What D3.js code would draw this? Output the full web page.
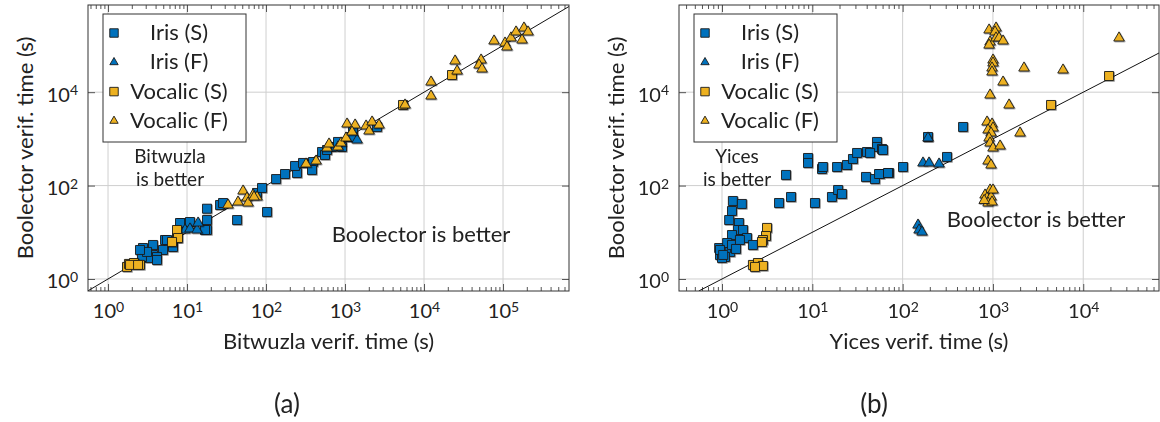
<!DOCTYPE html>
<html>
<head>
<meta charset="utf-8">
<script src="https://cdn.jsdelivr.net/npm/d3@7"></script>
<style>
  body { margin: 0; background: #fff; }
  text { font-family: Lato, "Open Sans", sans-serif; fill: #222; }
</style>
</head>
<body>
<div id="chart"></div>
<script>
// ---- data: [solver time, Boolector time] in seconds ----
var LEGEND = ["Iris (S)", "Iris (F)", "Vocalic (S)", "Vocalic (F)"];
var Y_TICKS = [1, 100, 10000];

var bwIrisS = [[2.77,4.61],[3.71,5.35],[3.71,3.27],[4.97,4.18],[5.27,6.84],[6.65,5.35],[8.64,15.8],[10.9,16.6],
  [17.9,18.3],[17.9,11.2],[17.9,32],[26.2,38.4],[28.6,42.4],[43.0,18.3],[76.9,69.5],[89,88.9],[103,27.2],
  [3.12,3.6],[3.4,2.82],[4.17,2.96],[7.47,7.55],[2.69,2.96],[5.58,6.84],[8.15,15.8],[16.9,11.2],[3.12,3.79],
  [4.17,2.55],[6.65,4.84],[2.54,4.18],[134,138],[174,177],[247,186],[233,263],[294,305],[393,320],[382,216],
  [512,524],[558,452],[684,671],[864,817],[916,671],[1156,1098],[1262,1406],[2542,1799],[592,578],[815,859],[1227,1098]];
var bwIrisF = [[9.43,11.2],[10.9,11.8],[13.4,11.2],[13.8,15.8],[1420,947]];
var bwVocS = [[1.74,1.81],[1.84,2.1],[2.13,2.2],[2.54,2.0],[1.9,2.0],[2.4,2.0],[7.47,11.2],[7.69,7.55],[6.46,6.2],
  [5420,5320],[22600,23300]];
var bwVocF = [[33,38.4],[44.2,44.5],[51.2,76.6],[57.4,54.2],[68.4,62.9],[59.2,42.4],[76.9,57],[70.5,57],[321,290],
  [430,336],[592,638],[627,778],[815,671],[889,817],[1030,1045],[1060,2084],[1340,1985],[1227,1406],[1845,1890],
  [2198,2300],[2013,1476],[2692,1985],[5745,5320],[12270,16500],[12270,8290],[24700,46600],[26200,28400],
  [52700,48900],[49700,38200],[54200,31400],[76900,125000],[106000,113000],[112000,92900],[126000,145000],
  [146000,195000],[174000,131000],[184000,237000],[207000,195000]];

var yIrisS = [[1.32,46.8],[1.66,40.4],[1.29,28.6],[1.20,18.3],[1.54,15.8],[1.50,11.2],[1.71,11.2],[1.29,8.75],
  [1.89,7.55],[2.20,5.35],[0.93,4.61],[0.95,3.27],[1.23,3.79],[1.39,4.61],[1.08,2.96],[1.0,2.82],[1.14,5.9],
  [1.29,5.35],[1.58,6.84],[1.43,4.39],[0.95,4.18],[1.03,3.27],[5.11,169],[4.28,42.4],[5.81,57],[8.96,390],
  [8.96,305],[10.7,42.4],[12.8,227],[13.1,250],[18.8,250],[24.2,276],[28.2,371],[31.3,499],[40.3,524],[52,859],
  [52,671],[59.1,608],[60.7,578],[43.6,499],[39.3,153],[49.4,138],[56.2,177],[70.7,186],[54.8,177],[16.5,57],
  [19.3,80.5],[21.3,66.1],[68.9,186],[101,250],[310,410],[467,1799],[191,1098]];
var yIrisF = [[168,305],[196,305],[253,290],[191,1045],[148,14.3],[152,11.2],[164,10.1]];
var yVocS = [[3.15,12.4],[3.07,8.33],[2.84,6.84],[2.77,6.2],[2.2,2.0],[2.5,2.2],[2.84,1.9],[2.32,1.81],
  [4400,5320],[19300,22200]];
var yVocF = [[906,215000],[1082,237000],[1055,195000],[929,119000],[906,102000],[1082,145000],[1169,145000],
  [1294,125000],[1002,48900],[1002,42200],[977,33000],[977,27100],[2208,33000],[1294,16500],[929,8710],
  [1508,5320],[860,2300],[977,2084],[1002,1711],[883,1552],[953,1337],[906,1045],[929,817],[1002,638],
  [1199,705],[1995,1337],[883,336],[953,276],[929,80.5],[818,62.9],[860,54.2],[953,57],[883,42.4],[977,44.5],
  [1002,80.5],[800,48],[5970,29900],[24900,145000]];

var COLORS = ["#0072BD", "#0072BD", "#EDB120", "#EDB120"];
var SHAPES = [d3.symbolSquare, d3.symbolTriangle, d3.symbolSquare, d3.symbolTriangle];

var W = 1160, H = 422, TOP = 5, BOTTOM = 291;

var svg = d3.select("#chart").append("svg").attr("width", W).attr("height", H);

var defs = svg.append("defs");
defs.append("filter").attr("id", "shadow")
    .attr("x", "-50%").attr("y", "-50%").attr("width", "200%").attr("height", "200%")
  .append("feDropShadow")
    .attr("dx", 0.8).attr("dy", 0.8).attr("stdDeviation", 0.6)
    .attr("flood-color", "#000").attr("flood-opacity", 0.45);

function pow10Label(sel) {
  sel.each(function (d) {
    var t = d3.select(this);
    t.text(null);
    t.append("tspan").text("10");
    t.append("tspan").attr("dy", "-0.45em").attr("font-size", 14).text(Math.round(Math.log10(d)));
  });
}

function drawPanel(cfg) {
  var g = svg.append("g");
  var x = d3.scaleLog().domain(cfg.xDomain).range([cfg.left, cfg.right]);
  var y = d3.scaleLog().domain([0.553, 7.36e5]).range([BOTTOM, TOP]);

  var xMajor = [], xMinor = [];
  for (var k = -1; k <= 6; k++) {
    var v = Math.pow(10, k);
    if (v >= cfg.xDomain[0] && v <= cfg.xDomain[1]) xMajor.push(v);
    for (var m = 2; m <= 9; m++) {
      var mv = m * v;
      if (mv >= cfg.xDomain[0] && mv <= cfg.xDomain[1]) xMinor.push(mv);
    }
  }

  var clipId = "clip" + cfg.id;
  defs.append("clipPath").attr("id", clipId)
    .append("rect").attr("x", cfg.left).attr("y", TOP)
    .attr("width", cfg.right - cfg.left).attr("height", BOTTOM - TOP);

  // grid
  g.append("g").selectAll("line").data(xMajor).enter().append("line")
    .attr("x1", d => x(d)).attr("x2", d => x(d))
    .attr("y1", TOP).attr("y2", BOTTOM)
    .attr("stroke", "#cfcfcf").attr("stroke-width", 1);
  g.append("g").selectAll("line").data(Y_TICKS).enter().append("line")
    .attr("x1", cfg.left).attr("x2", cfg.right)
    .attr("y1", d => y(d)).attr("y2", d => y(d))
    .attr("stroke", "#cfcfcf").attr("stroke-width", 1);

  // axes (ticks inside the box)
  function styleAxis(a) {
    a.select(".domain").remove();
    a.attr("color", "#555").attr("font-size", null).attr("font-family", null);
  }
  g.append("g").attr("transform", "translate(0," + BOTTOM + ")")
    .call(d3.axisBottom(x).tickValues(xMinor).tickSizeInner(-4).tickSizeOuter(0).tickFormat(""))
    .call(styleAxis);
  g.append("g").attr("transform", "translate(0," + TOP + ")")
    .call(d3.axisTop(x).tickValues(xMinor).tickSizeInner(-4).tickSizeOuter(0).tickFormat(""))
    .call(styleAxis);
  g.append("g").attr("transform", "translate(0," + TOP + ")")
    .call(d3.axisTop(x).tickValues(xMajor).tickSizeInner(-7).tickSizeOuter(0).tickFormat(""))
    .call(styleAxis);
  var xb = g.append("g").attr("transform", "translate(0," + BOTTOM + ")")
    .call(d3.axisBottom(x).tickValues(xMajor).tickSizeInner(-7).tickSizeOuter(0).tickPadding(13))
    .call(styleAxis);
  xb.selectAll(".tick text").attr("font-size", 20).call(pow10Label);

  var yl = g.append("g").attr("transform", "translate(" + cfg.left + ",0)")
    .call(d3.axisLeft(y).tickValues(Y_TICKS).tickSizeInner(-7).tickSizeOuter(0).tickPadding(10))
    .call(styleAxis);
  yl.selectAll(".tick text").attr("font-size", 20).attr("dy", "0.45em").call(pow10Label);
  g.append("g").attr("transform", "translate(" + cfg.right + ",0)")
    .call(d3.axisRight(y).tickValues(Y_TICKS).tickSizeInner(-7).tickSizeOuter(0).tickFormat(""))
    .call(styleAxis);

  // diagonal y = x
  var lo = Math.max(cfg.xDomain[0], y.domain()[0]), hi = Math.min(cfg.xDomain[1], y.domain()[1]);
  g.append("line")
    .attr("clip-path", "url(#" + clipId + ")")
    .attr("x1", x(lo)).attr("y1", y(lo)).attr("x2", x(hi)).attr("y2", y(hi))
    .attr("stroke", "#111").attr("stroke-width", 1);

  // markers
  var marks = g.append("g").attr("clip-path", "url(#" + clipId + ")");
  cfg.series.forEach(function (data, i) {
    var sym = d3.symbol().type(SHAPES[i]).size(SHAPES[i] === d3.symbolSquare ? 81 : 48);
    marks.append("g").attr("filter", "url(#shadow)")
      .selectAll("path").data(data).enter().append("path")
      .attr("d", sym)
      .attr("transform", d => "translate(" + x(d[0]) + "," + y(d[1]) + ")")
      .attr("fill", COLORS[i]).attr("stroke", "#1a1a1a").attr("stroke-width", 0.9);
  });

  // frame
  g.append("rect").attr("x", cfg.left).attr("y", TOP)
    .attr("width", cfg.right - cfg.left).attr("height", BOTTOM - TOP)
    .attr("fill", "none").attr("stroke", "#333").attr("stroke-width", 1);

  // axis labels
  g.append("text").attr("x", (cfg.left + cfg.right) / 2).attr("y", 349)
    .attr("text-anchor", "middle").attr("font-size", 22).text(cfg.xLabel);
  g.append("text")
    .attr("transform", "translate(" + (cfg.left - 55) + "," + (TOP + BOTTOM) / 2 + ") rotate(-90)")
    .attr("text-anchor", "middle").attr("font-size", 22).text("Boolector verif. time (s)");

  // legend
  var lg = g.append("g").attr("transform", "translate(" + (cfg.left + 15) + ",14)");
  lg.append("rect").attr("width", 143).attr("height", 128)
    .attr("fill", "#fff").attr("stroke", "#333").attr("stroke-width", 1);
  LEGEND.forEach(function (name, i) {
    var cy = 19 + i * 29.3;
    lg.append("path")
      .attr("d", d3.symbol().type(SHAPES[i]).size(SHAPES[i] === d3.symbolSquare ? 72 : 30))
      .attr("transform", "translate(11," + cy + ")")
      .attr("fill", COLORS[i]).attr("stroke", "#1a1a1a").attr("stroke-width", 0.9);
    lg.append("text").attr("x", 76).attr("y", cy + 7)
      .attr("text-anchor", "middle").attr("font-size", 22).text(name);
  });

  // annotations (one text element each, lines as tspans)
  cfg.notes.forEach(function (n) {
    var t = g.append("text").attr("x", n[0]).attr("y", n[1])
      .attr("text-anchor", "middle").attr("font-size", n[3]);
    n[2].forEach(function (line, j) {
      t.append("tspan").attr("x", n[0]).attr("dy", j === 0 ? 0 : 23).text(line);
    });
  });

  g.append("text").attr("x", cfg.capX).attr("y", 413)
    .attr("text-anchor", "middle").attr("font-size", 26).text(cfg.caption);
}

drawPanel({
  id: "a", left: 88, right: 569, xDomain: [0.558, 6.84e5],
  series: [bwIrisS, bwIrisF, bwVocS, bwVocF],
  xLabel: "Bitwuzla verif. time (s)",
  notes: [[170, 163, ["Bitwuzla", "is better"], 19], [421, 242, ["Boolector is better"], 22]],
  capX: 287, caption: "(a)"
});

drawPanel({
  id: "b", left: 679, right: 1159, xDomain: [0.334, 6.9e4],
  series: [yIrisS, yIrisF, yVocS, yVocF],
  xLabel: "Yices verif. time (s)",
  notes: [[737, 163, ["Yices", "is better"], 19], [1036, 227, ["Boolector is better"], 22]],
  capX: 874, caption: "(b)"
});
</script>
</body>
</html>
